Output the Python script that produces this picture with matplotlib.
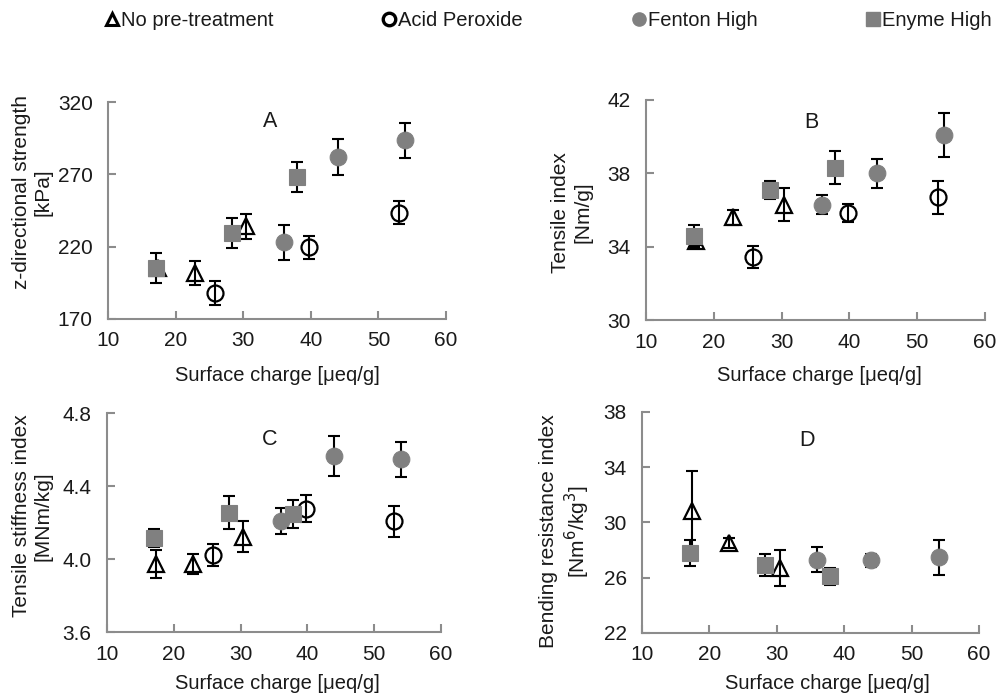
import matplotlib
matplotlib.use('Agg')
import matplotlib.pyplot as plt
from matplotlib.lines import Line2D
import numpy as np

plt.rcParams['font.family'] = ['Liberation Sans', 'DejaVu Sans']

# surface charge [ueq/g] per treatment
x_none = [17.4, 22.9, 30.4]
x_acid = [25.8, 39.8, 53.0]
x_fenton = [36.0, 44.0, 54.0]
x_enz = [17.1, 28.3, 37.9]

# A: z-directional strength [kPa]
a_none = [205.0, 201.7, 234.0]
a_none_err = [3.0, 8.4, 8.5]
a_acid = [188.0, 219.6, 243.5]
a_acid_err = [8.0, 8.0, 8.0]
a_fenton = [223.0, 282.0, 293.4]
a_fenton_err = [12.0, 12.4, 12.4]
a_enz = [205.3, 229.7, 268.0]
a_enz_err = [10.3, 10.4, 10.3]

# B: tensile index [Nm/g]
b_none = [34.3, 35.6, 36.3]
b_none_err = [0.2, 0.4, 0.9]
b_acid = [33.45, 35.85, 36.7]
b_acid_err = [0.6, 0.5, 0.9]
b_fenton = [36.3, 38.0, 40.1]
b_fenton_err = [0.5, 0.8, 1.2]
b_enz = [34.6, 37.1, 38.3]
b_enz_err = [0.6, 0.5, 0.9]

# C: tensile stiffness index [MNm/kg]
c_none = [3.974, 3.971, 4.121]
c_none_err = [0.078, 0.055, 0.085]
c_acid = [4.02, 4.276, 4.206]
c_acid_err = [0.06, 0.073, 0.085]
c_fenton = [4.208, 4.563, 4.546]
c_fenton_err = [0.07, 0.11, 0.096]
c_enz = [4.115, 4.254, 4.248]
c_enz_err = [0.05, 0.09, 0.077]

# D: bending resistance index (no acid peroxide data)
d_none = [30.86, 28.52, 26.71]
d_none_err = [2.85, 0.35, 1.3]
d_fenton = [27.31, 27.26, 27.48]
d_fenton_err = [0.9, 0.48, 1.25]
d_enz = [27.79, 26.9, 26.1]
d_enz_err = [0.97, 0.8, 0.6]

gray = '#808080'
axc = '#8c8c8c'
txt = '#1a1a1a'
fs = 14.5

styles = {
    'none': dict(marker='^', ms=11, mfc='none', mec='black', mew=1.6),
    'acid': dict(marker='o', ms=11.5, mfc='none', mec='black', mew=1.6),
    'fenton': dict(marker='o', ms=12, mfc=gray, mec=gray, mew=0.8),
    'enz': dict(marker='s', ms=11.5, mfc=gray, mec=gray, mew=0.8),
}

fig = plt.figure(figsize=(9.98, 6.93), dpi=100)

def panel(rect, letter, ylabel, ylim, yticks, yfmt, ylab_xy, xlab_xy, letter_xy, series):
    ax = fig.add_axes(rect)
    z = 2
    for kind, x, y, e in series:
        ax.errorbar(x, y, yerr=e, fmt='none', ecolor='black', elinewidth=1.5,
                    capsize=4.5, capthick=1.5, zorder=z)
        ax.plot(x, y, ls='none', zorder=z + 0.5, **styles[kind])
        z += 1
    ax.set_xlim(10, 60)
    ax.set_ylim(*ylim)
    ax.set_xticks([10, 20, 30, 40, 50, 60])
    ax.set_yticks(yticks)
    ax.set_yticklabels([yfmt % v for v in yticks])
    for s in ['top', 'right']:
        ax.spines[s].set_visible(False)
    for s in ['left', 'bottom']:
        ax.spines[s].set_color(axc)
        ax.spines[s].set_linewidth(1.5)
    ax.tick_params(direction='in', length=6, width=1.5, color=axc,
                   labelsize=15, labelcolor=txt)
    ax.tick_params(axis='y', pad=11)
    ax.tick_params(axis='x', pad=9)
    ax.set_ylabel(ylabel, fontsize=15, color=txt)
    ax.yaxis.set_label_coords(*ylab_xy)
    ax.set_xlabel('Surface charge [μeq/g]', fontsize=fs, color=txt)
    ax.xaxis.set_label_coords(*xlab_xy)
    ax.text(letter_xy[0], letter_xy[1], letter, transform=ax.transAxes,
            fontsize=15.5, ha='center', va='center', color=txt)
    return ax

panel([0.1082, 0.5397, 0.3387, 0.3131], 'A', 'z-directional strength\n[kPa]',
      (170, 320), [170, 220, 270, 320], '%d', (-0.163, 0.585), (0.5, -0.215), (0.48, 0.908),
      [('none', x_none, a_none, a_none_err), ('acid', x_acid, a_acid, a_acid_err),
       ('fenton', x_fenton, a_fenton, a_fenton_err), ('enz', x_enz, a_enz, a_enz_err)])

panel([0.6473, 0.5382, 0.3397, 0.3175], 'B', 'Tensile index\n[Nm/g]',
      (30, 42), [30, 34, 38, 42], '%d', (-0.159, 0.49), (0.51, -0.21), (0.487, 0.9),
      [('none', x_none, b_none, b_none_err), ('acid', x_acid, b_acid, b_acid_err),
       ('fenton', x_fenton, b_fenton, b_fenton_err), ('enz', x_enz, b_enz, b_enz_err)])

panel([0.1072, 0.0880, 0.3347, 0.3160], 'C', 'Tensile stiffness index\n[MNm/kg]',
      (3.6, 4.8), [3.6, 4.0, 4.4, 4.8], '%.1f', (-0.162, 0.53), (0.509, -0.19), (0.488, 0.877),
      [('none', x_none, c_none, c_none_err), ('acid', x_acid, c_acid, c_acid_err),
       ('fenton', x_fenton, c_fenton, c_fenton_err), ('enz', x_enz, c_enz, c_enz_err)])

panel([0.6433, 0.0866, 0.3377, 0.3189], 'D', 'Bending resistance index\n[Nm$^6$/kg$^3$]',
      (22, 38), [22, 26, 30, 34, 38], '%d', (-0.148, 0.46), (0.549, -0.185), (0.49, 0.873),
      [('none', x_none, d_none, d_none_err),
       ('fenton', x_fenton, d_fenton, d_fenton_err), ('enz', x_enz, d_enz, d_enz_err)])

handles = [
    Line2D([], [], ls='none', marker='^', ms=9, mfc='white', mec='black', mew=2.2),
    Line2D([], [], ls='none', marker='o', ms=9, mfc='white', mec='black', mew=2.4),
    Line2D([], [], ls='none', marker='o', ms=9.5, mfc=gray, mec=gray),
    Line2D([], [], ls='none', marker='s', ms=10.5, mfc=gray, mec=gray),
]
labels = ['No pre-treatment', 'Acid Peroxide', 'Fenton High', 'Enyme High']
fig.legend(handles, labels, loc='center left', bbox_to_anchor=(0.106, 0.971),
           ncol=4, frameon=False, fontsize=fs, handlelength=0.6, handletextpad=0.15,
           columnspacing=5.45, borderpad=0, borderaxespad=0, labelcolor=txt)

fig.savefig('out.png', dpi=100)
